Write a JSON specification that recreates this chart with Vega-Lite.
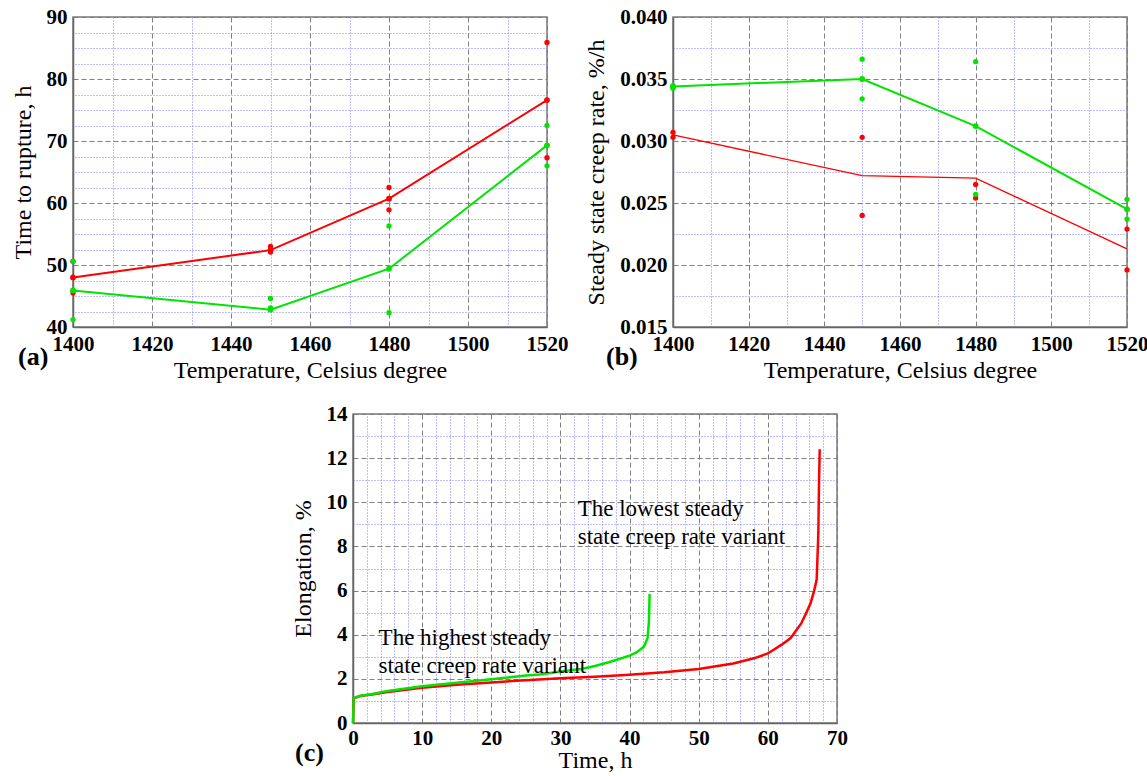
{
  "$schema": "https://vega.github.io/schema/vega-lite/v6.json",
  "padding": {"left": 10, "top": 5, "right": 0, "bottom": 0},
  "background": "white",
  "datasets": {
    "a_pts": [
      {"T": 1400, "h": 50.6, "v": "lowest"}, {"T": 1400, "h": 45.5, "v": "lowest"},
      {"T": 1450, "h": 53.0, "v": "lowest"}, {"T": 1450, "h": 52.1, "v": "lowest"},
      {"T": 1480, "h": 62.5, "v": "lowest"}, {"T": 1480, "h": 58.9, "v": "lowest"},
      {"T": 1520, "h": 85.9, "v": "lowest"}, {"T": 1520, "h": 67.3, "v": "lowest"},
      {"T": 1400, "h": 50.6, "v": "highest"}, {"T": 1400, "h": 41.2, "v": "highest"},
      {"T": 1450, "h": 44.6, "v": "highest"}, {"T": 1450, "h": 43.1, "v": "highest"},
      {"T": 1480, "h": 56.3, "v": "highest"}, {"T": 1480, "h": 42.3, "v": "highest"},
      {"T": 1520, "h": 72.5, "v": "highest"}, {"T": 1520, "h": 66.0, "v": "highest"}
    ],
    "a_mean": [
      {"T": 1400, "h": 48.0, "v": "lowest"}, {"T": 1450, "h": 52.4, "v": "lowest"},
      {"T": 1480, "h": 60.7, "v": "lowest"}, {"T": 1520, "h": 76.6, "v": "lowest"},
      {"T": 1400, "h": 45.9, "v": "highest"}, {"T": 1450, "h": 42.8, "v": "highest"},
      {"T": 1480, "h": 49.4, "v": "highest"}, {"T": 1520, "h": 69.3, "v": "highest"}
    ],
    "b_pts": [
      {"T": 1400, "r": 0.0307, "v": "lowest"}, {"T": 1400, "r": 0.0303, "v": "lowest"},
      {"T": 1450, "r": 0.0303, "v": "lowest"}, {"T": 1450, "r": 0.0240, "v": "lowest"},
      {"T": 1480, "r": 0.0265, "v": "lowest"}, {"T": 1480, "r": 0.0254, "v": "lowest"},
      {"T": 1520, "r": 0.0229, "v": "lowest"}, {"T": 1520, "r": 0.0196, "v": "lowest"},
      {"T": 1400, "r": 0.03445, "v": "highest"}, {"T": 1400, "r": 0.03425, "v": "highest"},
      {"T": 1450, "r": 0.0366, "v": "highest"}, {"T": 1450, "r": 0.0334, "v": "highest"},
      {"T": 1480, "r": 0.0364, "v": "highest"}, {"T": 1480, "r": 0.0257, "v": "highest"},
      {"T": 1520, "r": 0.0253, "v": "highest"}, {"T": 1520, "r": 0.0237, "v": "highest"}
    ],
    "b_mean": [
      {"T": 1400, "r": 0.0305, "v": "lowest"}, {"T": 1450, "r": 0.0272, "v": "lowest"},
      {"T": 1480, "r": 0.0270, "v": "lowest"}, {"T": 1520, "r": 0.0213, "v": "lowest"},
      {"T": 1400, "r": 0.0344, "v": "highest"}, {"T": 1450, "r": 0.0350, "v": "highest"},
      {"T": 1480, "r": 0.0312, "v": "highest"}, {"T": 1520, "r": 0.0245, "v": "highest"}
    ],
    "c_curve": [
      {"t": 0, "e": 0, "v": "lowest"}, {"t": 0.1, "e": 1.12, "v": "lowest"}, {"t": 1, "e": 1.22, "v": "lowest"},
      {"t": 3, "e": 1.3, "v": "lowest"}, {"t": 5, "e": 1.4, "v": "lowest"}, {"t": 10, "e": 1.6, "v": "lowest"},
      {"t": 15, "e": 1.73, "v": "lowest"}, {"t": 20, "e": 1.84, "v": "lowest"}, {"t": 25, "e": 1.94, "v": "lowest"},
      {"t": 30, "e": 2.03, "v": "lowest"}, {"t": 35, "e": 2.1, "v": "lowest"}, {"t": 40, "e": 2.19, "v": "lowest"},
      {"t": 45, "e": 2.3, "v": "lowest"}, {"t": 50, "e": 2.45, "v": "lowest"}, {"t": 55, "e": 2.7, "v": "lowest"},
      {"t": 58, "e": 2.93, "v": "lowest"}, {"t": 60, "e": 3.15, "v": "lowest"}, {"t": 62, "e": 3.55, "v": "lowest"},
      {"t": 63.3, "e": 3.85, "v": "lowest"}, {"t": 64.8, "e": 4.5, "v": "lowest"}, {"t": 65.5, "e": 4.95, "v": "lowest"},
      {"t": 66.2, "e": 5.45, "v": "lowest"}, {"t": 66.7, "e": 6.0, "v": "lowest"}, {"t": 67.06, "e": 6.5, "v": "lowest"},
      {"t": 67.3, "e": 8.6, "v": "lowest"}, {"t": 67.4, "e": 10.9, "v": "lowest"}, {"t": 67.5, "e": 12.4, "v": "lowest"},
      {"t": 0, "e": 0, "v": "highest"}, {"t": 0.1, "e": 1.14, "v": "highest"}, {"t": 1, "e": 1.22, "v": "highest"},
      {"t": 3, "e": 1.33, "v": "highest"}, {"t": 5, "e": 1.45, "v": "highest"}, {"t": 10, "e": 1.66, "v": "highest"},
      {"t": 15, "e": 1.82, "v": "highest"}, {"t": 20, "e": 1.98, "v": "highest"}, {"t": 23, "e": 2.08, "v": "highest"},
      {"t": 25, "e": 2.15, "v": "highest"}, {"t": 27, "e": 2.2, "v": "highest"}, {"t": 30, "e": 2.33, "v": "highest"},
      {"t": 33, "e": 2.45, "v": "highest"}, {"t": 35, "e": 2.58, "v": "highest"}, {"t": 37, "e": 2.75, "v": "highest"},
      {"t": 38.5, "e": 2.9, "v": "highest"}, {"t": 40, "e": 3.05, "v": "highest"}, {"t": 41, "e": 3.2, "v": "highest"},
      {"t": 42.1, "e": 3.47, "v": "highest"}, {"t": 42.6, "e": 3.85, "v": "highest"}, {"t": 42.8, "e": 4.6, "v": "highest"},
      {"t": 42.9, "e": 5.85, "v": "highest"}
    ],
    "c_notes": [
      {"t": 3.7, "e": 3.86, "label": "The highest steady\nstate creep rate variant"},
      {"t": 32.5, "e": 9.69, "label": "The lowest steady\nstate creep rate variant"}
    ]
  },
  "vconcat": [
    {
      "hconcat": [
        {
          "width": 474, "height": 310,
          "title": {"text": "(a)", "orient": "bottom", "anchor": "start", "frame": "group", "dx": -55, "dy": -42},
          "resolve": {"axis": {"x": "independent", "y": "independent"}},
          "layer": [
            {
              "data": {"name": "a_pts"},
              "mark": {"type": "circle", "size": 28, "opacity": 1},
              "encoding": {
                "x": {"field": "T", "type": "quantitative", "scale": {"domain": [1400, 1520], "nice": false, "zero": false},
                  "axis": {"orient": "top", "values": [1410, 1430, 1450, 1470, 1490, 1510], "labels": false, "domain": false, "ticks": false, "grid": true, "gridColor": "#7b7bff", "gridDash": [1, 2], "title": null}},
                "y": {"field": "h", "type": "quantitative", "scale": {"domain": [40, 90], "nice": false, "zero": false},
                  "axis": {"orient": "right", "values": [42.5, 45, 47.5, 52.5, 55, 57.5, 62.5, 65, 67.5, 72.5, 75, 77.5, 82.5, 85, 87.5], "labels": false, "domain": false, "ticks": false, "grid": true, "gridColor": "#7b7bff", "gridDash": [1, 2], "title": null}},
                "color": {"field": "v", "type": "nominal", "scale": {"domain": ["lowest", "highest"], "range": ["#ff0000", "#00e400"]}, "legend": null}
              }
            },
            {
              "data": {"name": "a_mean"},
              "mark": {"type": "line", "strokeWidth": 2, "point": {"filled": true, "size": 34}},
              "encoding": {
                "x": {"field": "T", "type": "quantitative", "axis": {"orient": "bottom", "grid": true, "format": "d", "titlePadding": 4, "values": [1400, 1420, 1440, 1460, 1480, 1500, 1520], "title": "Temperature, Celsius degree"}},
                "y": {"field": "h", "type": "quantitative", "axis": {"orient": "left", "grid": true, "format": "d", "values": [40, 50, 60, 70, 80, 90], "title": "Time to rupture, h"}},
                "color": {"field": "v", "type": "nominal", "legend": null}
              }
            }
          ]
        },
        {
          "width": 454, "height": 310,
          "title": {"text": "(b)", "orient": "bottom", "anchor": "start", "frame": "group", "dx": -67, "dy": -42},
          "resolve": {"axis": {"x": "independent", "y": "independent"}},
          "layer": [
            {
              "data": {"name": "b_pts"},
              "mark": {"type": "circle", "size": 28, "opacity": 1},
              "encoding": {
                "x": {"field": "T", "type": "quantitative", "scale": {"domain": [1400, 1520], "nice": false, "zero": false},
                  "axis": {"orient": "top", "values": [1410, 1430, 1450, 1470, 1490, 1510], "labels": false, "domain": false, "ticks": false, "grid": true, "gridColor": "#7b7bff", "gridDash": [1, 2], "title": null}},
                "y": {"field": "r", "type": "quantitative", "scale": {"domain": [0.015, 0.04], "nice": false, "zero": false},
                  "axis": {"orient": "right", "values": [0.0175, 0.0225, 0.0275, 0.0325, 0.0375], "labels": false, "domain": false, "ticks": false, "grid": true, "gridColor": "#7b7bff", "gridDash": [1, 2], "title": null}},
                "color": {"field": "v", "type": "nominal", "scale": {"domain": ["lowest", "highest"], "range": ["#ff0000", "#00e400"]}, "legend": null}
              }
            },
            {
              "data": {"name": "b_mean"},
              "mark": {"type": "line"},
              "encoding": {
                "x": {"field": "T", "type": "quantitative", "axis": {"orient": "bottom", "grid": true, "format": "d", "titlePadding": 4, "values": [1400, 1420, 1440, 1460, 1480, 1500, 1520], "title": "Temperature, Celsius degree"}},
                "y": {"field": "r", "type": "quantitative", "axis": {"orient": "left", "grid": true, "values": [0.015, 0.02, 0.025, 0.03, 0.035, 0.04], "format": ".3f", "title": "Steady state creep rate, %/h"}},
                "color": {"field": "v", "type": "nominal", "legend": null},
                "strokeWidth": {"field": "v", "type": "nominal", "scale": {"domain": ["lowest", "highest"], "range": [1.3, 2]}, "legend": null}
              }
            },
            {
              "data": {"name": "b_mean"},
              "transform": [{"filter": "datum.v === 'highest'"}],
              "mark": {"type": "circle", "size": 34, "opacity": 1},
              "encoding": {
                "x": {"field": "T", "type": "quantitative", "axis": null},
                "y": {"field": "r", "type": "quantitative", "axis": null},
                "color": {"field": "v", "type": "nominal", "legend": null}
              }
            }
          ]
        }
      ],
      "spacing": 126,
      "bounds": "flush"
    },
    {
      "hconcat": [
        {
          "width": 217, "height": 10,
          "view": {"stroke": null},
          "data": {"values": []},
          "mark": {"type": "point", "opacity": 0}
        },
        {
          "width": 484, "height": 309,
          "title": {"text": "(c)", "orient": "bottom", "anchor": "start", "frame": "group", "dx": -58, "dy": -36},
          "resolve": {"axis": {"x": "independent", "y": "independent"}},
          "layer": [
            {
              "data": {"name": "c_curve"},
              "transform": [{"filter": "datum.v === 'lowest'"}],
              "mark": {"type": "line", "color": "#ff0000", "strokeWidth": 2.5},
              "encoding": {
                "x": {"field": "t", "type": "quantitative", "scale": {"domain": [0, 70], "nice": false, "zero": false},
                  "axis": {"orient": "top", "values": [2, 4, 6, 8, 12, 14, 16, 18, 22, 24, 26, 28, 32, 34, 36, 38, 42, 44, 46, 48, 52, 54, 56, 58, 62, 64, 66, 68], "labels": false, "domain": false, "ticks": false, "grid": true, "gridColor": "#7b7bff", "gridDash": [1, 2], "title": null}},
                "y": {"field": "e", "type": "quantitative", "scale": {"domain": [0, 14], "nice": false, "zero": false},
                  "axis": {"orient": "right", "values": [1, 3, 5, 7, 9, 11, 13], "labels": false, "domain": false, "ticks": false, "grid": true, "gridColor": "#7b7bff", "gridDash": [1, 2], "title": null}}
              }
            },
            {
              "data": {"name": "c_curve"},
              "transform": [{"filter": "datum.v === 'highest'"}],
              "mark": {"type": "line", "color": "#00e400", "strokeWidth": 2.5},
              "encoding": {
                "x": {"field": "t", "type": "quantitative", "axis": null},
                "y": {"field": "e", "type": "quantitative", "axis": null}
              }
            },
            {
              "data": {"name": "c_notes"},
              "mark": {"type": "text", "align": "left", "baseline": "middle", "font": "Liberation Serif", "fontSize": 23, "lineBreak": "\n", "lineHeight": 28, "color": "#000"},
              "encoding": {
                "x": {"field": "t", "type": "quantitative", "axis": {"orient": "bottom", "grid": true, "format": "d", "labelPadding": 4, "titlePadding": 0, "values": [0, 10, 20, 30, 40, 50, 60, 70], "title": "Time, h"}},
                "y": {"field": "e", "type": "quantitative", "axis": {"orient": "left", "grid": true, "format": "d", "values": [0, 2, 4, 6, 8, 10, 12, 14], "title": "Elongation, %"}},
                "text": {"field": "label", "type": "nominal"}
              }
            }
          ]
        }
      ],
      "spacing": 0
    }
  ],
  "spacing": 19,
  "config": {
    "view": {"stroke": "#7a7a7a", "strokeWidth": 1.5},
    "axis": {
      "labelFont": "Liberation Serif", "labelFontSize": 21, "labelFontWeight": "bold", "labelColor": "#000",
      "titleFont": "Liberation Serif", "titleFontSize": 24, "titleFontWeight": "normal", "titleColor": "#000",
      "ticks": false, "domainColor": "#666666", "domainWidth": 1.5,
      "gridColor": "#7f7f7f", "gridDash": [5, 3], "gridWidth": 1,
      "labelFlush": false, "labelPadding": 6, "titlePadding": 11
    },
    "title": {"font": "Liberation Serif", "fontSize": 26, "fontWeight": "bold", "color": "#000"}
  }
}
